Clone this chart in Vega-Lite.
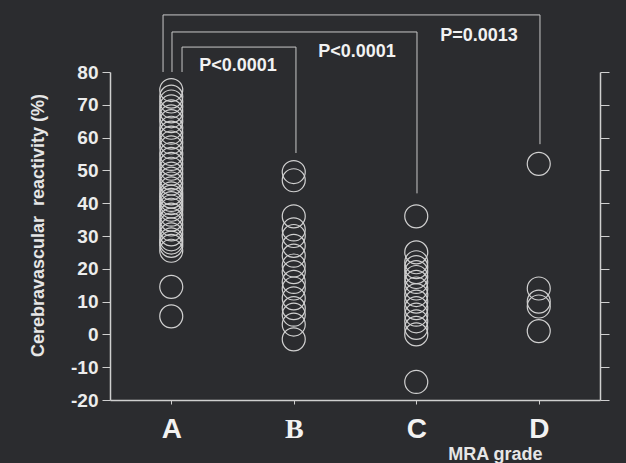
{
  "$schema": "https://vega.github.io/schema/vega-lite/v6.json",
  "width": 490,
  "height": 328,
  "autosize": {"type": "none"},
  "padding": {"left": 110, "top": 72, "right": 26, "bottom": 63},
  "background": "#2b2c2f",
  "config": {"view": {"stroke": null}, "font": "Liberation Sans"},
  "datasets": {
    "points": [
      {"grade": "A", "cvr": 74.5}, {"grade": "A", "cvr": 72.5}, {"grade": "A", "cvr": 71}, {"grade": "A", "cvr": 69.5},
      {"grade": "A", "cvr": 68}, {"grade": "A", "cvr": 66.5}, {"grade": "A", "cvr": 65}, {"grade": "A", "cvr": 63},
      {"grade": "A", "cvr": 61.5}, {"grade": "A", "cvr": 60}, {"grade": "A", "cvr": 58.5}, {"grade": "A", "cvr": 57},
      {"grade": "A", "cvr": 55}, {"grade": "A", "cvr": 53.5}, {"grade": "A", "cvr": 52}, {"grade": "A", "cvr": 50.5},
      {"grade": "A", "cvr": 49}, {"grade": "A", "cvr": 47.5}, {"grade": "A", "cvr": 46}, {"grade": "A", "cvr": 44.5},
      {"grade": "A", "cvr": 43}, {"grade": "A", "cvr": 42}, {"grade": "A", "cvr": 41}, {"grade": "A", "cvr": 40},
      {"grade": "A", "cvr": 39}, {"grade": "A", "cvr": 38}, {"grade": "A", "cvr": 36.5}, {"grade": "A", "cvr": 35},
      {"grade": "A", "cvr": 33.5}, {"grade": "A", "cvr": 32}, {"grade": "A", "cvr": 30.5}, {"grade": "A", "cvr": 29},
      {"grade": "A", "cvr": 28}, {"grade": "A", "cvr": 27}, {"grade": "A", "cvr": 25.5}, {"grade": "A", "cvr": 14.5},
      {"grade": "A", "cvr": 5.5},
      {"grade": "B", "cvr": 49.5}, {"grade": "B", "cvr": 47}, {"grade": "B", "cvr": 36}, {"grade": "B", "cvr": 32},
      {"grade": "B", "cvr": 30}, {"grade": "B", "cvr": 27}, {"grade": "B", "cvr": 24}, {"grade": "B", "cvr": 21},
      {"grade": "B", "cvr": 19}, {"grade": "B", "cvr": 16}, {"grade": "B", "cvr": 14}, {"grade": "B", "cvr": 11},
      {"grade": "B", "cvr": 8}, {"grade": "B", "cvr": 6}, {"grade": "B", "cvr": 3}, {"grade": "B", "cvr": -1.5},
      {"grade": "C", "cvr": 36}, {"grade": "C", "cvr": 25}, {"grade": "C", "cvr": 22}, {"grade": "C", "cvr": 20.5},
      {"grade": "C", "cvr": 19}, {"grade": "C", "cvr": 17.5}, {"grade": "C", "cvr": 16}, {"grade": "C", "cvr": 14},
      {"grade": "C", "cvr": 12}, {"grade": "C", "cvr": 10}, {"grade": "C", "cvr": 8}, {"grade": "C", "cvr": 6},
      {"grade": "C", "cvr": 4}, {"grade": "C", "cvr": 2}, {"grade": "C", "cvr": 0}, {"grade": "C", "cvr": -14.5},
      {"grade": "D", "cvr": 52}, {"grade": "D", "cvr": 14}, {"grade": "D", "cvr": 10}, {"grade": "D", "cvr": 8.5},
      {"grade": "D", "cvr": 1}
    ],
    "brackets": [
      {"pair": "AB", "ord": 1, "pos": 0.588, "cvr": 80},
      {"pair": "AB", "ord": 2, "pos": 0.588, "cvr": 87.6},
      {"pair": "AB", "ord": 3, "pos": 1.518, "cvr": 87.6},
      {"pair": "AB", "ord": 4, "pos": 1.518, "cvr": 55.3},
      {"pair": "AC", "ord": 1, "pos": 0.506, "cvr": 80},
      {"pair": "AC", "ord": 2, "pos": 0.506, "cvr": 92.2},
      {"pair": "AC", "ord": 3, "pos": 2.506, "cvr": 92.2},
      {"pair": "AC", "ord": 4, "pos": 2.506, "cvr": 43},
      {"pair": "AD", "ord": 1, "pos": 0.433, "cvr": 80},
      {"pair": "AD", "ord": 2, "pos": 0.433, "cvr": 97.4},
      {"pair": "AD", "ord": 3, "pos": 3.51, "cvr": 97.4},
      {"pair": "AD", "ord": 4, "pos": 3.51, "cvr": 58}
    ],
    "labels": [
      {"text": "P<0.0001", "pos": 1.045, "cvr": 81.8},
      {"text": "P<0.0001", "pos": 2.016, "cvr": 86.1},
      {"text": "P=0.0013", "pos": 3.012, "cvr": 91.0}
    ]
  },
  "layer": [
    {
      "mark": {"type": "rule", "stroke": "#d8d8d8", "strokeWidth": 2.5, "strokeDash": [3, 2]},
      "encoding": {
        "y": {"datum": 19, "type": "quantitative", "scale": {"domain": [-20, 80], "nice": false}, "axis": null}
      }
    },
    {
      "data": {"name": "points"},
      "mark": {"type": "point", "shape": "circle", "filled": false, "size": 529, "stroke": "#d0d0d0", "strokeWidth": 1.2, "opacity": 1},
      "encoding": {
        "x": {
          "field": "grade", "type": "nominal",
          "scale": {"type": "point", "padding": 0.5, "domain": ["A", "B", "C", "D"]},
          "axis": {
            "title": "MRA grade", "orient": "bottom", "labelAngle": 0,
            "labelFontSize": 28, "labelFontWeight": "bold", "labelColor": "#f2f2f2",
            "labelFont": {"condition": {"test": "datum.value === 'B'", "value": "Liberation Serif"}, "value": "Liberation Sans"},
            "labelPadding": 11, "tickSize": 4, "tickColor": "#cfcfcf", "domainColor": "#cfcfcf", "domainWidth": 1.5,
            "titleFontSize": 18, "titleFontWeight": "bold", "titleColor": "#e6e6e6",
            "titleX": 432, "titleY": 59, "titleAlign": "right", "titleBaseline": "alphabetic", "grid": false
          }
        },
        "y": {
          "field": "cvr", "type": "quantitative",
          "scale": {"domain": [-20, 80], "nice": false},
          "axis": {
            "title": "Cerebravascular\u00a0 reactivity (%)", "orient": "left",
            "values": [-20, -10, 0, 10, 20, 30, 40, 50, 60, 70, 80],
            "labelExpr": "'' + datum.value",
            "labelFontSize": 19, "labelFontWeight": "bold", "labelColor": "#ececec", "labelPadding": 4,
            "tickSize": 8, "tickColor": "#cfcfcf", "domainColor": "#cfcfcf", "domainWidth": 1.5, "grid": false,
            "titleFontSize": 18, "titleFontWeight": "bold", "titleColor": "#e6e6e6",
            "titleX": -72, "titleY": 153, "titleAngle": -90, "titleAlign": "center", "titleBaseline": "middle"
          }
        }
      }
    },
    {
      "data": {"name": "brackets"},
      "mark": {"type": "line", "stroke": "#c8c8c8", "strokeWidth": 1},
      "encoding": {
        "x": {"field": "pos", "type": "quantitative", "scale": {"domain": [0, 4], "nice": false}, "axis": null},
        "y": {
          "field": "cvr", "type": "quantitative", "scale": {"domain": [-20, 80], "nice": false},
          "axis": {
            "orient": "right", "title": null, "labels": false,
            "values": [-20, -10, 0, 10, 20, 30, 40, 50, 60, 70, 80],
            "tickSize": 9, "tickColor": "#cfcfcf", "domainColor": "#cfcfcf", "domainWidth": 1.5, "grid": false
          }
        },
        "detail": {"field": "pair"},
        "order": {"field": "ord", "type": "quantitative"}
      }
    },
    {
      "data": {"name": "labels"},
      "mark": {"type": "text", "fontSize": 18, "fontWeight": "bold", "fill": "#f2f2f2", "align": "center", "baseline": "middle"},
      "encoding": {
        "x": {"field": "pos", "type": "quantitative", "scale": {"domain": [0, 4], "nice": false}, "axis": null},
        "y": {"field": "cvr", "type": "quantitative", "scale": {"domain": [-20, 80], "nice": false}, "axis": null},
        "text": {"field": "text"}
      }
    }
  ],
  "resolve": {"scale": {"x": "independent"}, "axis": {"y": "independent"}}
}
